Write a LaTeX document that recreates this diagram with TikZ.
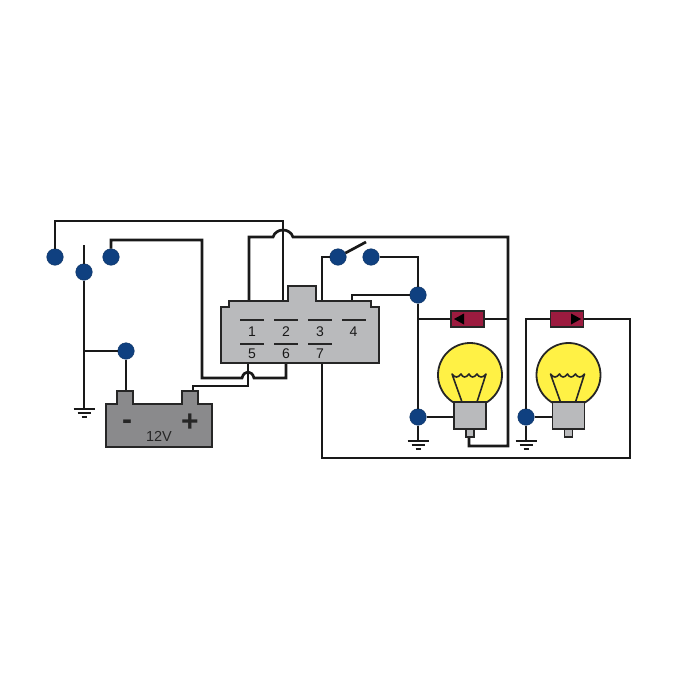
\documentclass[tikz,border=0pt]{standalone}
\usepackage{fontspec}
\setmainfont{Liberation Sans}
\definecolor{dotblue}{HTML}{0F4080}
\definecolor{boxgrey}{HTML}{B9BABC}
\definecolor{battgrey}{HTML}{8A8A8C}
\definecolor{lampyellow}{HTML}{FFF145}
\definecolor{fuse}{HTML}{9C1B3F}
\tikzset{
  wire/.style={line width=2.7pt,line join=miter,black!90},
  dot/.style={circle,fill=dotblue,draw=dotblue!80!black,line width=0.5pt,minimum size=16.5pt,inner sep=0pt},
  pinlabel/.style={font=\fontsize{14}{14}\selectfont,text=black!90},
  fusebox/.style={rectangle,fill=fuse,draw=black!85,line width=1.4pt,minimum width=33pt,minimum height=16pt,inner sep=0pt},
  lampbase/.style={rectangle,fill=boxgrey,draw=black!85,line width=1.8pt,minimum width=32pt,minimum height=27pt,inner sep=0pt},
}
\begin{document}
\begin{tikzpicture}[x=1pt,y=-1pt]
\useasboundingbox (0,0) rectangle (680,680);
% blue terminals
\node[dot] (stalkL) at (55,257) {};
\node[dot] (stalkC) at (84,272) {};
\node[dot] (stalkR) at (111,257) {};
\node[dot] (battneg) at (126,351) {};
\node[dot] (switchL) at (338,257) {};
\node[dot] (switchR) at (371,257) {};
\node[dot] (split) at (418,295) {};
\node[dot] (earthA) at (418,417) {};
\node[dot] (earthB) at (526,417) {};
% fuses and lamp bases
\node[fusebox] (fuseA) at (467.5,319) {};
\node[fusebox] (fuseB) at (567,319) {};
\node[lampbase] (baseA) at (470,415.5) {};
\node[lampbase] (baseB) at (568.5,415.5) {};
% free ends
\coordinate (stalkend) at (84,245);
\coordinate (earthC) at (84,409);
\coordinate (earthD) at (418,441);
\coordinate (earthE) at (526,441);
\coordinate (negpost) at (126,391);
\coordinate (pospost) at (193,391);
\coordinate (tee) at (84,351);
\coordinate (pinA) at (249,301);
\coordinate (pinB) at (283,301);
\coordinate (pinC) at (322,301);
\coordinate (pinD) at (352,301);
\coordinate (pinE) at (248,363);
\coordinate (pinF) at (286,363);
\coordinate (pinG) at (322,363);
\coordinate (tipA) at (469,437);
\coordinate (armtip) at (366,242);
% left side wires
\draw[wire] (stalkL) |- (283,221) -- (pinB);
\draw[wire] (stalkend) -- (stalkC);
\draw[wire] (stalkC) -- (earthC);
\draw[wire] (tee) -- (battneg);
\draw[wire] (battneg) -- (negpost);
\draw[wire] (stalkR) |- (202,240) -- (202,378) -- (242,378)
  .. controls (244,370) and (252,370) .. (254,378) -- (286,378) -- (pinF);
\draw[wire] (pinE) -- (248,386) -- (193,386) -- (pospost);
% top wire with hop
\draw[wire] (pinA) -- (249,237) -- (273,237)
  .. controls (276,227.7) and (290,227.7) .. (293,237) -- (508,237) -- (508,446) -- (469,446) -- (tipA);
% switch
\draw[wire] (switchL) -| (pinC);
\draw[wire] (switchL) -- (armtip);
\draw[wire] (switchR) -| (split);
\draw[wire] (split) -| (pinD);
\draw[wire] (split) -- (earthA);
\draw[wire] (earthA) -- (earthD);
\draw[wire] (earthA) -- (earthA -| baseA);
\draw[wire] (earthB) -- (earthE);
\draw[wire] (earthB) -- (earthB -| baseB);
% fuse wires
\draw[wire] (418,319) -- (fuseA);
\draw[wire] (fuseA) -- (508,319);
\draw[wire] (earthB) |- (fuseB);
\draw[wire] (pinG) -- (322,458) -- (630,458) -- (630,319) -- (fuseB);
% earth symbols
\foreach \gx/\gy in {84/409,418/441,526/441} {
  \draw[line width=2pt,black!90] (\gx-10.5,\gy) -- (\gx+10.5,\gy);
  \draw[line width=2pt,black!90] (\gx-6.5,\gy+4) -- (\gx+6.5,\gy+4);
  \draw[line width=2pt,black!90] (\gx-2.5,\gy+8) -- (\gx+2.5,\gy+8);
}
% battery
\draw[line width=2.7pt,black!85,fill=battgrey] (106,404) -- (117,404) -- (117,391) -- (133,391) -- (133,404)
  -- (182,404) -- (182,391) -- (198,391) -- (198,404) -- (212,404) -- (212,447) -- (106,447) -- cycle;
\node[font=\fontsize{30}{30}\bfseries\selectfont,text=black!85] (minus) at (127,425) {-};
\node[font=\fontsize{30}{30}\bfseries\selectfont,text=black!85] (plus) at (190,423) {+};
\node[font=\fontsize{14.5}{14.5}\selectfont,text=black!85] (volts) at (159,436.5) {12V};
% connector body
\draw[line width=2.7pt,black!85,fill=boxgrey] (221,363) -- (221,307) -- (229,307) -- (229,301) -- (288,301) -- (288,286)
  -- (316,286) -- (316,301) -- (371,301) -- (371,307) -- (379,307) -- (379,363) -- cycle;
\foreach \bx in {240,274,308,342} \draw[line width=2.4pt,black!85] (\bx,320) -- (\bx+24,320);
\foreach \bx in {240,274,308} \draw[line width=2.4pt,black!85] (\bx,344) -- (\bx+24,344);
\node[pinlabel] (one) at (252,332) {1};
\node[pinlabel] (two) at (286,332) {2};
\node[pinlabel] (three) at (320,332) {3};
\node[pinlabel] (four) at (353.5,332) {4};
\node[pinlabel] (five) at (252,353.5) {5};
\node[pinlabel] (six) at (286,353.5) {6};
\node[pinlabel] (seven) at (320,353.5) {7};
% fuse arrows
\fill[black] (454,319) -- (464,313.5) -- (464,324.5) -- cycle;
\fill[black] (581,319) -- (571,313.5) -- (571,324.5) -- cycle;
% lamps
\foreach \lx/\lbase in {470/baseA,568.5/baseB} {
  \draw[line width=1.8pt,black!85,fill=lampyellow] (\lx,375) circle (32);
  \draw[line width=1.6pt,black!85,line join=round] (\lx-8,402) -- (\lx-18,374)
    .. controls (\lx-15,378) and (\lx-12,378) .. (\lx-9,374)
    .. controls (\lx-7,378) and (\lx-4,378) .. (\lx-1,374)
    .. controls (\lx+1,378) and (\lx+4,378) .. (\lx+7,374)
    .. controls (\lx+9,378) and (\lx+13,378) .. (\lx+16,374) -- (\lx+7,402);
  \draw[line width=1.8pt,black!85,fill=boxgrey] (\lx-4,429) rectangle (\lx+4,437);
  \node[lampbase] at (\lbase) {};
}
\end{tikzpicture}
\end{document}
